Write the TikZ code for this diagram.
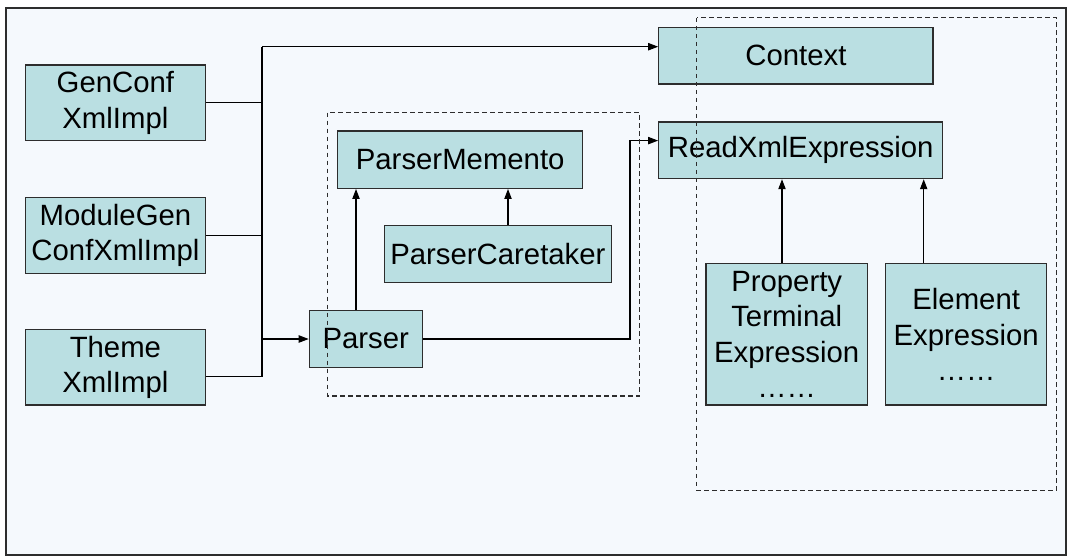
\documentclass[tikz,border=0pt]{standalone}
\usepackage{fontspec}
\setmainfont{Liberation Sans}
\usetikzlibrary{arrows.meta}
\definecolor{boxfill}{RGB}{186,223,226}
\definecolor{pagebg}{RGB}{245,249,253}
\definecolor{lineclr}{RGB}{45,45,45}
\begin{document}
\begin{tikzpicture}[x=0.75pt, y=-0.75pt, font=\fontsize{22}{26.6}\selectfont]
       \tikzstyle{classbox}=[draw=lineclr, fill=boxfill, line width=0.9pt, inner sep=0pt, align=center]
       \tikzstyle{link}=[draw=black, line width=0.8pt]
       \tikzstyle{arrowlink}=[link, -{Triangle[length=7.5pt,width=5.5pt]}]
       \tikzstyle{groupbox}=[draw=lineclr, line width=0.8pt, dash pattern=on 3.5pt off 2.5pt]
       \useasboundingbox (0,0) rectangle (1067,558);
       \draw[lineclr, fill=pagebg, line width=0.8pt] (6,8) rectangle (1066,555);
       \node[classbox, minimum width=135pt, minimum height=56.8pt] (genconf) at (115.4,102.9) {GenConf\\XmlImpl};
       \node[classbox, minimum width=135pt, minimum height=56.8pt] (modulegen) at (115.4,235.3) {ModuleGen\\ConfXmlImpl};
       \node[classbox, minimum width=135pt, minimum height=56.8pt] (theme) at (115.4,367.2) {Theme\\XmlImpl};
       \node[classbox, minimum width=84.6pt, minimum height=42.5pt] (parser) at (365.7,339) {Parser};
       \node[classbox, minimum width=184pt, minimum height=43pt] (memento) at (460.2,159.7) {ParserMemento};
       \node[classbox, minimum width=170.4pt, minimum height=42.8pt] (caretaker) at (497.9,254.2) {ParserCaretaker};
       \node[classbox, minimum width=205.7pt, minimum height=42.5pt] (context) at (795.9,55.7) {Context};
       \node[classbox, minimum width=213pt, minimum height=42.5pt] (readxml) at (800.7,150.3) {ReadXmlExpression};
       \node[classbox, minimum width=121pt, minimum height=106pt] (property) at (786.7,334.4) {Property\\Terminal\\Expression\\……};
       \node[classbox, minimum width=120.8pt, minimum height=106pt] (element) at (966.2,334.4) {Element\\Expression\\……};
       \coordinate (bustop) at (262,46.7);
       \coordinate (busbot) at (262,376.7);
       \coordinate (turn) at (630,140.6);
       \coordinate (pmx) at (356,0);
       \coordinate (cmx) at (508,0);
       \coordinate (prx) at (782,0);
       \coordinate (elx) at (923.7,0);
       \draw[link] (genconf.east) -- (genconf.east -| bustop);
       \draw[link] (modulegen.east) -- (modulegen.east -| bustop);
       \draw[link] (theme.east |- busbot) -- (busbot) -- (bustop);
       \draw[arrowlink] (bustop) -- (bustop -| context.west);
       \draw[arrowlink] (parser.west -| busbot) -- (parser.west);
       \draw[arrowlink] (parser.north -| pmx) -- (memento.south -| pmx);
       \draw[arrowlink] (caretaker.north -| cmx) -- (memento.south -| cmx);
       \draw[arrowlink] (parser.east) -| (turn) -- (turn -| readxml.west);
       \draw[arrowlink] (property.north -| prx) -- (readxml.south -| prx);
       \draw[arrowlink] (element.north -| elx) -- (readxml.south -| elx);
       \draw[groupbox] (327.4,112.7) rectangle (639.7,396);
       \draw[groupbox] (696.7,17.8) rectangle (1056.7,490.4);
      \end{tikzpicture}
\end{document}
